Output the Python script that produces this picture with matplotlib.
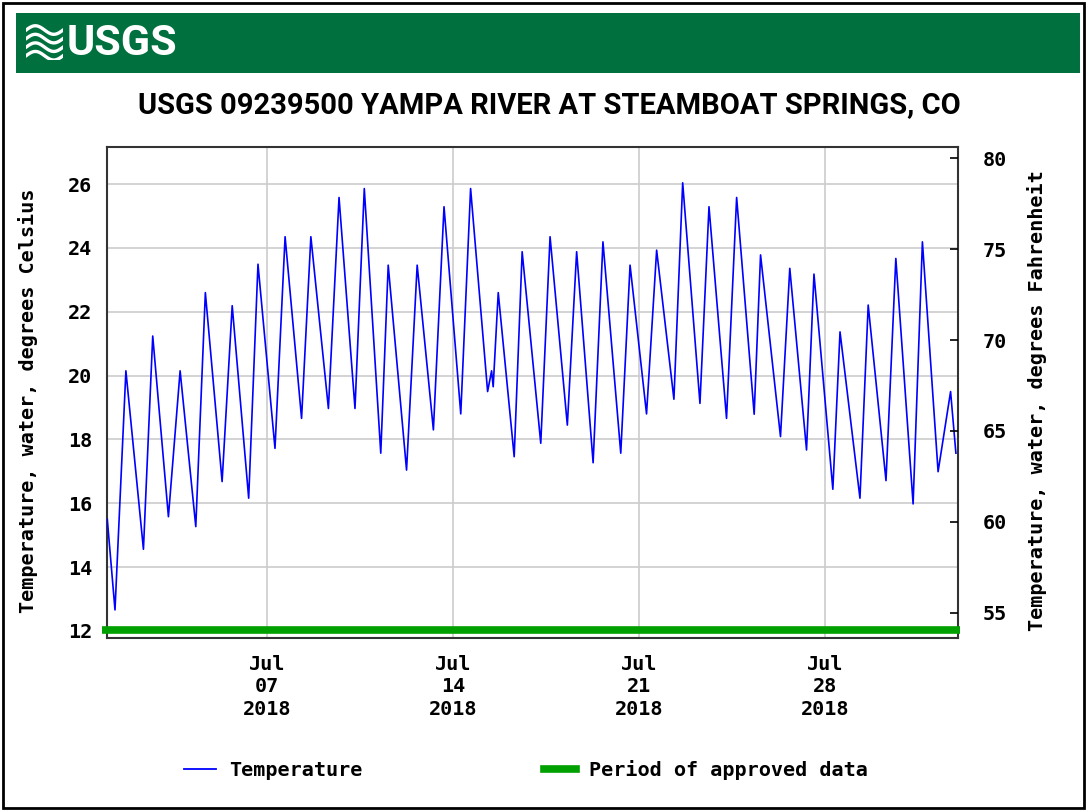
import numpy as np
import pandas as pd
import matplotlib
matplotlib.use('Agg')
import matplotlib.pyplot as plt
from matplotlib.patches import Rectangle
from matplotlib.lines import Line2D

# Daily highs and lows (days after 2018-07-01 00:00, deg C)
day_offsets = [0.00, 0.29, 0.70, 1.36, 1.71, 2.30, 2.74, 3.33, 3.69, 4.32, 4.70,
               5.32, 5.67, 6.31, 6.69, 7.31, 7.66, 8.32, 8.72, 9.32, 9.67, 10.29,
               10.57, 11.26, 11.66, 12.27, 12.67, 13.30, 13.67, 14.31, 14.46, 14.52,
               14.71, 15.31, 15.61, 16.31, 16.66, 17.31, 17.66, 18.28, 18.65, 19.32,
               19.67, 20.29, 20.67, 21.32, 21.65, 22.30, 22.64, 23.30, 23.68, 24.34,
               24.58, 25.33, 25.68, 26.31, 26.59, 27.30, 27.57, 28.32, 28.63, 29.30,
               29.67, 30.32, 30.67, 31.26, 31.73, 31.93]
temps_c = [15.5, 12.66, 20.15, 14.56, 21.24, 15.58, 20.15, 15.27, 22.6, 16.68, 22.19,
           16.16, 23.49, 17.72, 24.35, 18.66, 24.35, 18.97, 25.58, 18.97, 25.86, 17.57,
           23.46, 17.04, 23.46, 18.30, 25.29, 18.8, 25.86, 19.5, 20.15, 19.65,
           22.6, 17.46, 23.88, 17.88, 24.35, 18.45, 23.88, 17.27, 24.19, 17.57,
           23.46, 18.8, 23.93, 19.26, 26.04, 19.13, 25.29, 18.66, 25.58, 18.79,
           23.78, 18.09, 23.36, 17.67, 23.18, 16.44, 21.37, 16.16, 22.21, 16.71,
           23.67, 15.98, 24.19, 16.99, 19.5, 17.57]

start = pd.Timestamp('2018-07-01')
end = pd.Timestamp('2018-08-02')
times = start + pd.to_timedelta(day_offsets, unit='D')

tick_dates = pd.to_datetime(['2018-07-07', '2018-07-14', '2018-07-21', '2018-07-28'])
tick_labels = ['Jul\n07\n2018', 'Jul\n14\n2018', 'Jul\n21\n2018', 'Jul\n28\n2018']
c_ticks = [12, 14, 16, 18, 20, 22, 24, 26]
f_ticks = [55, 60, 65, 70, 75, 80]

mono = ['DejaVu Sans Mono']
narrow = ['Roboto', 'DejaVu Sans']
fs = 14.5

fig = plt.figure(figsize=(10.87, 8.11), dpi=100)

# outer frame
fig.patches.append(Rectangle((0.003, 0.004), 0.994, 0.992, transform=fig.transFigure,
                             fill=False, edgecolor='black', linewidth=2))

# USGS banner
fig.patches.append(Rectangle((0.0147, 0.910), 0.979, 0.074, transform=fig.transFigure,
                             facecolor='#00703F', edgecolor='none'))
fig.text(0.061, 0.946, 'USGS', color='white', fontsize=31, fontweight='bold',
         family=narrow, fontstretch='condensed', va='center', ha='left')
# little wave icon
icon = fig.add_axes([0.024, 0.926, 0.034, 0.044])
icon.set_zorder(3)
icon.set_xlim(0, 1)
icon.set_ylim(0, 1)
icon.axis('off')
u = np.linspace(0, 1, 50)
for k in range(4):
    icon.plot(u, 0.12 + k * 0.24 + 0.12 * np.sin(u * 2 * np.pi), color='white', lw=2.4)

fig.text(0.505, 0.871, 'USGS 09239500 YAMPA RIVER AT STEAMBOAT SPRINGS, CO',
         ha='center', va='center', fontsize=21, fontweight='bold', family=narrow,
         fontstretch='condensed')

ax = fig.add_axes([0.0987, 0.2133, 0.7824, 0.6058])
line, = ax.plot(times, temps_c, color='#0000FF', linewidth=1.2, zorder=3)
bar = ax.axhline(12.03, xmin=-0.006, xmax=1.003, color='#00A000', linewidth=5.5,
                 clip_on=False, zorder=4, solid_capstyle='butt')

ax.set_xlim(start, end)
ax.set_ylim(11.78, 27.17)
ax.set_yticks(c_ticks)
ax.set_xticks(tick_dates)
ax.set_xticklabels(tick_labels, family=mono, fontsize=fs, fontweight='bold',
                   linespacing=1.25)
ax.set_yticklabels([str(v) for v in c_ticks], family=mono, fontsize=fs,
                   fontweight='bold')
ax.tick_params(axis='both', length=0)
ax.tick_params(axis='y', pad=11)
ax.tick_params(axis='x', pad=12)
ax.grid(True, color='#cccccc', linewidth=1.2)
for s in ax.spines.values():
    s.set_color('#333333')
    s.set_linewidth(1.5)
ax.set_ylabel('Temperature, water, degrees Celsius', family=mono, fontsize=fs,
              fontweight='bold')
ax.yaxis.set_label_coords(-0.081, 0.482)

ax2 = ax.twinx()
ax2.set_ylim(53.61, 80.64)
ax2.set_yticks(f_ticks)
ax2.set_yticklabels([str(v) for v in f_ticks], family=mono, fontsize=fs,
                    fontweight='bold')
ax2.tick_params(axis='y', direction='in', length=6, width=1.2, pad=18)
for s in ax2.spines.values():
    s.set_visible(False)
ax2.set_ylabel('Temperature, water, degrees Fahrenheit', family=mono, fontsize=fs,
               fontweight='bold')
ax2.yaxis.set_label_coords(1.082, 0.484)

handles = [Line2D([], [], color='#0000FF', linewidth=1.3),
           Line2D([], [], color='#00A000', linewidth=5.5)]
fig.legend(handles, ['Temperature', 'Period of approved data'], ncol=2,
           loc='center', bbox_to_anchor=(0.484, 0.051), frameon=False,
           prop={'family': mono, 'size': fs, 'weight': 'bold'},
           handlelength=1.6, handletextpad=0.65, columnspacing=9.0)

fig.savefig('out.png', dpi=100)
